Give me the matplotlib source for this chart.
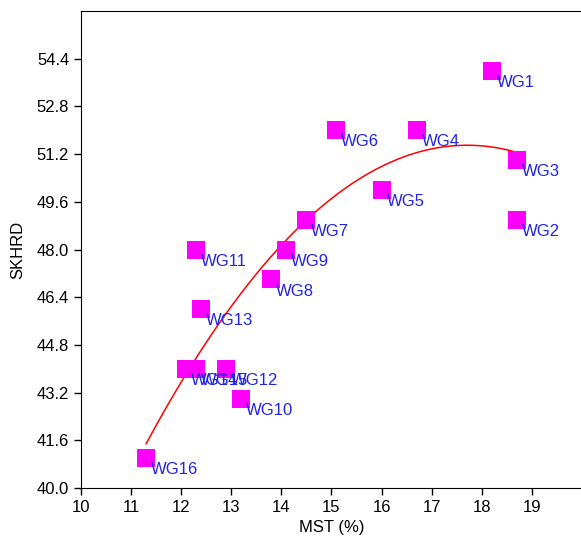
import numpy as np
import matplotlib.pyplot as plt

plt.rcParams['font.family'] = ['Liberation Sans', 'DejaVu Sans']

# meetpunten
labels = ['WG1', 'WG2', 'WG3', 'WG4', 'WG5', 'WG6', 'WG7', 'WG8',
          'WG9', 'WG10', 'WG11', 'WG12', 'WG13', 'WG14', 'WG15', 'WG16']
mst = [18.2, 18.7, 18.7, 16.7, 16.0, 15.1, 14.5, 13.8,
       14.1, 13.2, 12.3, 12.9, 12.4, 12.1, 12.3, 11.3]
skhrd = [54.0, 49.0, 51.0, 52.0, 50.0, 52.0, 49.0, 47.0,
         48.0, 43.0, 48.0, 44.0, 46.0, 44.0, 44.0, 41.0]

xticks = [10, 11, 12, 13, 14, 15, 16, 17, 18, 19]
yticks = [40.0, 41.6, 43.2, 44.8, 46.4, 48.0, 49.6, 51.2, 52.8, 54.4]

fig = plt.figure(figsize=(5.81, 5.38), dpi=100)
ax = fig.add_axes([0.1394, 0.0929, 0.8623, 0.8866])

# kwadratische trendlijn door de punten
coef = np.polyfit(mst, skhrd, 2)
xs = np.linspace(min(mst), max(mst), 200)
ax.plot(xs, np.polyval(coef, xs), color='red', lw=1.1, zorder=2)

ax.scatter(mst, skhrd, marker='s', s=150, color='#ff00ff', linewidths=0, zorder=3)
for lab, x, y in zip(labels, mst, skhrd):
    ax.annotate(lab, (x, y), xytext=(3.5, -3), textcoords='offset points',
                ha='left', va='top', color='#2323e6', fontsize=12, zorder=4)

ax.set_xlim(10, 20)
ax.set_ylim(40, 56)
ax.set_xticks(xticks)
ax.set_yticks(yticks)
ax.set_yticklabels([f'{t:.1f}' for t in yticks])
ax.tick_params(direction='out', length=5, labelsize=12, width=1)
ax.spines['right'].set_visible(False)

ax.set_xlabel('MST (%)', fontsize=12, labelpad=4)
ax.set_ylabel('SKHRD', fontsize=12, labelpad=8)

fig.savefig('out.png', dpi=100)
